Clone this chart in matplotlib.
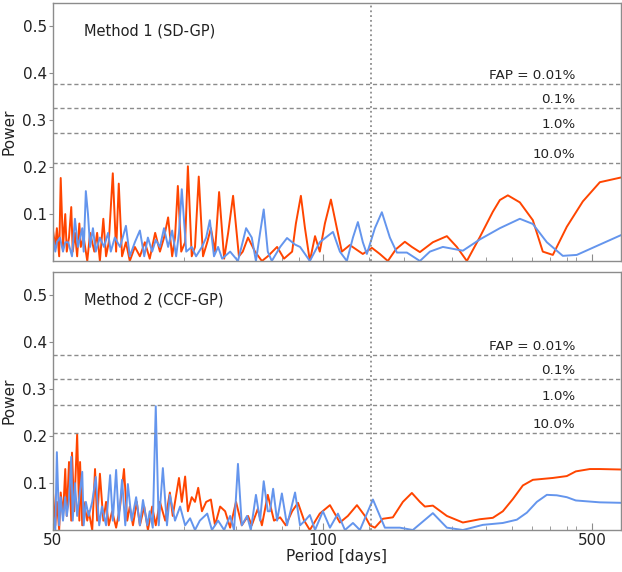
import numpy as np
import matplotlib.pyplot as plt
from matplotlib.ticker import FixedLocator, NullFormatter

# Method 1 (SD-GP), orange curve
p1_orange = [50.0, 50.3, 50.5, 50.8, 51.0, 51.3, 51.6, 51.8, 52.1, 52.4, 52.6, 52.9, 53.2, 53.5, 53.7,
             54.1, 54.6, 55.0, 55.6, 56.0, 56.4, 56.9, 57.3, 57.7, 58.3, 58.8, 59.2, 59.7, 60.3, 60.9,
             61.7, 62.5, 63.3, 64.1, 65.0, 65.8, 66.5, 67.2, 67.9, 68.4, 68.9, 69.5, 70.2, 70.7, 71.4,
             72.0, 72.7, 73.5, 74.3, 75.0, 75.8, 76.6, 77.6, 78.4, 79.4, 80.6, 81.4, 82.5, 84.0, 85.5,
             86.8, 88.9, 90.5, 92.4, 93.3, 94.5, 95.5, 96.7, 98.0, 99.2, 101.2, 104.9, 108.7, 112.0,
             117.5, 127.0, 134.1, 140.6, 147.5, 154.8, 163.3, 170.3, 178.7, 193.1, 210.0, 222.9, 236.7,
             255.8, 276.5, 288.4, 302.5, 325.0, 351.3, 372.9, 396.0, 430.5, 473.8, 524.6, 594.8]
pow1_orange = [0.065, 0.03, 0.07, 0.01, 0.177, 0.03, 0.10, 0.02, 0.05, 0.115, 0.02, 0.06, 0.01, 0.08, 0.03,
               0.05, 0.0, 0.06, 0.02, 0.06, 0.0, 0.09, 0.01, 0.04, 0.187, 0.02, 0.165, 0.01, 0.04, 0.0,
               0.03, 0.01, 0.04, 0.005, 0.06, 0.02, 0.05, 0.093, 0.01, 0.05, 0.16, 0.02, 0.04, 0.202, 0.01,
               0.03, 0.18, 0.01, 0.04, 0.07, 0.02, 0.147, 0.005, 0.06, 0.139, 0.01, 0.02, 0.05, 0.02, 0.0,
               0.01, 0.03, 0.005, 0.02, 0.08, 0.139, 0.07, 0.0, 0.053, 0.02, 0.08, 0.131, 0.07, 0.02,
               0.034, 0.015, 0.028, 0.015, 0.0, 0.025, 0.041, 0.03, 0.019, 0.04, 0.053, 0.03, 0.0,
               0.051, 0.105, 0.13, 0.14, 0.125, 0.087, 0.02, 0.013, 0.073, 0.127, 0.168, 0.178]

# Method 1 (SD-GP), blue curve
p1_blue = [50.0, 50.3, 50.5, 50.9, 51.3, 51.6, 52.0, 52.5, 52.9, 53.3, 53.9, 54.1, 54.4, 54.7, 55.0,
           55.4, 55.8, 56.4, 57.0, 57.6, 58.0, 58.6, 59.4, 60.3, 60.9, 61.7, 62.5, 63.2, 63.8, 64.5,
           65.1, 65.8, 66.5, 67.2, 67.9, 68.6, 69.1, 69.6, 70.4, 71.4, 72.2, 73.3, 74.1, 74.8, 75.6,
           76.4, 77.2, 78.8, 80.4, 82.1, 83.3, 84.2, 85.1, 85.9, 86.8, 87.7, 89.6, 91.2, 93.1, 94.3,
           95.5, 96.7, 99.2, 106.2, 110.7, 115.4, 119.7, 123.3, 127.0, 130.1, 136.5, 142.3, 149.3,
           155.7, 165.3, 178.7, 189.7, 205.0, 231.1, 255.8, 288.4, 325.0, 351.3, 382.0, 420.3, 457.1,
           524.6, 594.8]
pow1_blue = [0.05, 0.02, 0.04, 0.05, 0.02, 0.04, 0.04, 0.01, 0.09, 0.03, 0.07, 0.02, 0.149, 0.10, 0.03,
             0.07, 0.02, 0.05, 0.03, 0.06, 0.02, 0.05, 0.03, 0.075, 0.01, 0.04, 0.065, 0.01, 0.05, 0.02,
             0.045, 0.03, 0.07, 0.03, 0.065, 0.01, 0.06, 0.153, 0.02, 0.03, 0.01, 0.03, 0.05, 0.087, 0.01,
             0.03, 0.005, 0.02, 0.0, 0.07, 0.05, 0.0, 0.06, 0.11, 0.02, 0.0, 0.03, 0.049, 0.035, 0.03,
             0.015, 0.0, 0.04, 0.062, 0.02, 0.0, 0.05, 0.083, 0.04, 0.015, 0.07, 0.104, 0.05,
             0.018, 0.018, 0.0, 0.02, 0.03, 0.022, 0.046, 0.07, 0.09, 0.079, 0.04, 0.011, 0.013,
             0.035, 0.055]

# Method 2 (CCF-GP), orange curve
p2_orange = [50.0, 50.3, 50.5, 50.8, 51.0, 51.3, 51.6, 51.8, 52.1, 52.4, 52.5, 52.8, 53.2, 53.5, 53.6,
             53.9, 54.1, 54.6, 54.8, 55.3, 55.7, 56.0, 56.4, 56.9, 57.3, 57.7, 58.2, 58.8, 59.4, 60.0,
             60.5, 60.9, 61.4, 62.0, 62.5, 63.2, 63.8, 64.5, 65.1, 65.8, 66.7, 67.5, 68.0, 69.1, 69.6,
             70.2, 70.7, 71.4, 72.0, 72.6, 73.3, 74.1, 75.0, 75.8, 76.8, 77.8, 78.8, 80.0, 81.2, 82.5,
             83.3, 84.6, 85.5, 86.8, 88.2, 89.6, 90.9, 92.4, 93.8, 95.3, 96.7, 99.2, 104.3, 110.7,
             116.1, 122.6, 128.6, 132.5, 136.5, 143.2, 152.0, 161.4, 170.3, 178.7, 184.1, 193.1, 210.0,
             231.1, 255.8, 276.5, 293.6, 311.7, 330.9, 351.3, 396.0, 430.5, 454.3, 494.1, 524.6, 594.8]
pow2_orange = [0.08, 0.01, 0.06, 0.0, 0.08, 0.03, 0.13, 0.03, 0.145, 0.02, 0.165, 0.04, 0.205, 0.02, 0.145,
               0.01, 0.06, 0.02, 0.04, 0.0, 0.13, 0.02, 0.12, 0.02, 0.06, 0.01, 0.04, 0.005, 0.05, 0.13,
               0.02, 0.05, 0.01, 0.06, 0.01, 0.05, 0.0, 0.05, 0.01, 0.06, 0.02, 0.08, 0.03, 0.111, 0.06,
               0.114, 0.04, 0.07, 0.06, 0.09, 0.04, 0.06, 0.065, 0.01, 0.05, 0.04, 0.005, 0.06, 0.01, 0.03,
               0.01, 0.045, 0.01, 0.075, 0.02, 0.027, 0.01, 0.04, 0.058, 0.02, 0.0, 0.035, 0.053, 0.016,
               0.03, 0.053, 0.03, 0.01, 0.005, 0.024, 0.027, 0.06, 0.079, 0.06, 0.05, 0.052, 0.03,
               0.016, 0.023, 0.026, 0.04, 0.066, 0.095, 0.107, 0.111, 0.115, 0.125, 0.13, 0.13, 0.129]

# Method 2 (CCF-GP), blue curve
p2_blue = [50.0, 50.3, 50.5, 50.8, 51.0, 51.3, 51.6, 51.8, 52.1, 52.4, 52.6, 52.9, 53.2, 53.5, 53.9,
           54.1, 54.4, 54.8, 55.3, 55.8, 56.3, 56.7, 57.3, 57.9, 58.3, 58.8, 59.2, 59.7, 60.2, 60.6,
           61.2, 61.9, 62.5, 63.0, 63.7, 64.1, 64.6, 65.1, 65.6, 66.3, 67.0, 67.5, 68.4, 69.3, 70.2,
           71.1, 72.0, 72.9, 74.3, 75.2, 76.4, 77.6, 78.8, 79.6, 80.4, 81.2, 82.3, 83.1, 84.2, 85.1,
           85.9, 86.8, 87.3, 88.0, 88.9, 90.0, 91.2, 93.1, 94.3, 95.5, 96.7, 98.0, 100.0, 104.3, 109.4,
           114.1, 119.7, 124.8, 134.9, 144.9, 158.5, 171.3, 193.1, 210.0, 231.1, 260.5, 293.6, 319.2,
           338.9, 359.8, 382.0, 405.5, 430.5, 454.3, 524.6, 594.8]
pow2_blue = [0.03, 0.0, 0.166, 0.01, 0.07, 0.02, 0.07, 0.03, 0.065, 0.156, 0.02, 0.10, 0.03, 0.07, 0.124,
             0.01, 0.06, 0.03, 0.06, 0.113, 0.01, 0.05, 0.01, 0.117, 0.02, 0.128, 0.02, 0.107, 0.01, 0.098,
             0.02, 0.07, 0.01, 0.064, 0.01, 0.04, 0.005, 0.264, 0.01, 0.132, 0.01, 0.075, 0.02, 0.05, 0.01,
             0.025, 0.0, 0.02, 0.035, 0.0, 0.02, 0.0, 0.03, 0.0, 0.141, 0.01, 0.03, 0.0, 0.075, 0.02,
             0.104, 0.04, 0.04, 0.088, 0.02, 0.078, 0.01, 0.08, 0.01, 0.02, 0.032, 0.0, 0.04, 0.005, 0.035,
             0.0, 0.015, 0.0, 0.065, 0.005, 0.005, 0.0, 0.036, 0.005, 0.0, 0.011, 0.015, 0.022,
             0.037, 0.06, 0.075, 0.074, 0.07, 0.063, 0.059, 0.058]

# false alarm levels
fap_labels = ["FAP = 0.01%", "0.1%", "1.0%", "10.0%"]
fap1 = [0.378, 0.327, 0.272, 0.209]
fap2 = [0.373, 0.322, 0.266, 0.207]
p_mark = 133.0
methods = ["Method 1 (SD-GP)", "Method 2 (CCF-GP)"]


# period axis: log-like, stretched differently below and above 100 d
def fwd(p):
    p = np.clip(np.asarray(p, dtype=float), 1e-3, None)
    r = np.log(p / 100.0)
    return np.where(r < 0, r / np.log(2) * 270, r / np.log(5) * 269)


def inv(u):
    u = np.asarray(u, dtype=float)
    return np.where(u < 0, 100 * 2 ** (u / 270), 100 * 5 ** (u / 269))


txt = '#222222'
grey = '#8c8c8c'
c_or = '#ff4500'
c_bl = '#6495ed'

fig = plt.figure(figsize=(6.22, 5.72), dpi=100)
ax1 = fig.add_axes([0.0852, 0.5437, 0.913, 0.451])
ax2 = fig.add_axes([0.0852, 0.0734, 0.913, 0.451])

data = [(p1_orange, pow1_orange, p1_blue, pow1_blue, fap1),
        (p2_orange, pow2_orange, p2_blue, pow2_blue, fap2)]

for i, ax in enumerate([ax1, ax2]):
    po, wo, pb, wb, fap = data[i]
    ax.set_xscale('function', functions=(fwd, inv))
    ax.plot(po, wo, color=c_or, lw=1.4)
    ax.plot(pb, wb, color=c_bl, lw=1.4)
    for lev, lab in zip(fap, fap_labels):
        ax.axhline(lev, color=grey, ls=(0, (3, 2)), lw=1.0)
        ax.annotate(lab, xy=(0.92, lev), xycoords=('axes fraction', 'data'),
                    xytext=(0, 1.5), textcoords='offset points',
                    ha='right', va='bottom', fontsize=9.7, color=txt)
    ax.axvline(p_mark, color=grey, ls=':', lw=1.3)
    ax.text(0.055, 0.893, methods[i], transform=ax.transAxes, fontsize=10.5,
            color=txt, va='center', ha='left')
    ax.set_xlim(50, 595)
    ax.set_ylim(0, 0.55)
    ax.set_yticks([0.1, 0.2, 0.3, 0.4, 0.5])
    ax.set_ylabel('Power', fontsize=11, color=txt, labelpad=4)
    ax.xaxis.set_major_locator(FixedLocator([50, 100, 500]))
    ax.xaxis.set_minor_locator(FixedLocator([70, 80, 90, 94, 132, 162, 216, 265, 310, 350, 390, 430, 454]))
    ax.xaxis.set_minor_formatter(NullFormatter())
    ax.tick_params(axis='x', which='major', direction='in', length=5, color=grey,
                   labelsize=11, labelcolor=txt, pad=2)
    ax.tick_params(axis='x', which='minor', direction='in', length=3, color=grey)
    ax.tick_params(axis='y', direction='out', length=3, color=grey, labelsize=11,
                   labelcolor=txt, pad=1.5)
    for s in ax.spines.values():
        s.set_color(grey)
        s.set_linewidth(1.0)

ax1.set_xticklabels([])
ax2.set_xticklabels(['50', '100', '500'])
ax2.set_xlabel('Period [days]', fontsize=11, color=txt, labelpad=1)

fig.savefig('out.png', dpi=100)
